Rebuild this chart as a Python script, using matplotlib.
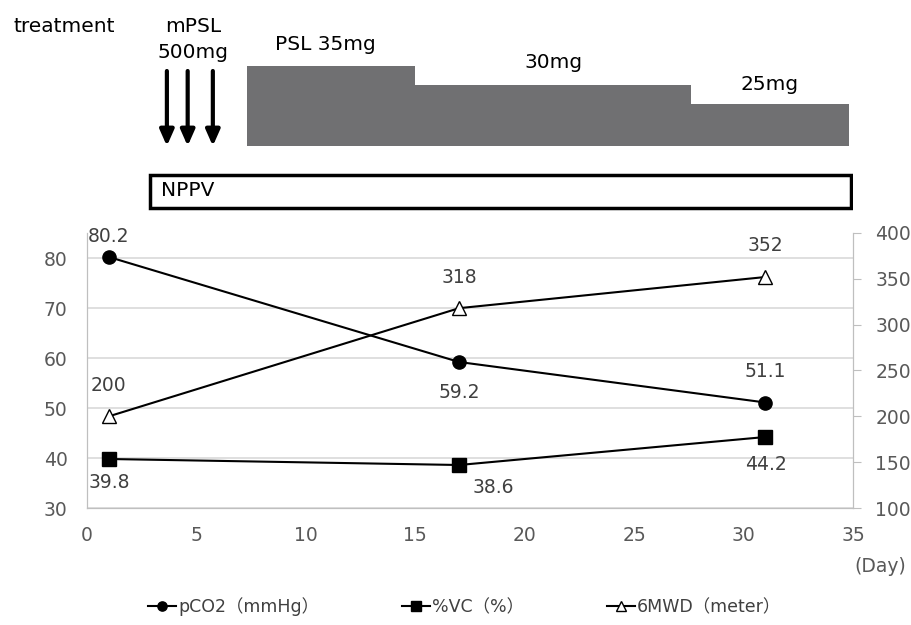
import matplotlib.pyplot as plt
from matplotlib.patches import Rectangle

days = [1, 17, 31]
pco2 = [80.2, 59.2, 51.1]
vc = [39.8, 38.6, 44.2]
mwd = [200, 318, 352]

# treatment schedule (day positions)
psl_start = [7.3, 15.0, 27.6]
psl_end = [15.0, 27.6, 34.8]
psl_dose = [35, 30, 25]
psl_labels = ['PSL 35mg', '30mg', '25mg']
pulse_days = [3.65, 4.6, 5.75]
nppv_start, nppv_end = 2.9, 34.9

fig = plt.figure(figsize=(9.11, 6.25), dpi=100)
plt.rcParams['font.family'] = ['DejaVu Sans', 'Noto Sans CJK JP']

L, R = 87 / 911, 853 / 911
ax = fig.add_axes([L, 1 - 508 / 625, R - L, 275 / 625])
ax2 = ax.twinx()

gray = '#595959'
ax.set_xlim(0, 35)
ax.set_ylim(30, 85)
ax.set_yticks([30, 40, 50, 60, 70, 80])
ax.set_xticks(range(0, 36, 5))
ax2.set_ylim(100, 400)
ax2.set_yticks(range(100, 401, 50))
ax.grid(axis='y', color='#d9d9d9', lw=1.2)
ax.set_axisbelow(True)
ax.spines['top'].set_visible(False)
ax2.spines['top'].set_visible(False)
for a in (ax, ax2):
    for s in ['left', 'right', 'bottom']:
        a.spines[s].set_color('#bfbfbf')
ax.tick_params(axis='y', length=0, labelsize=13.5, labelcolor=gray, pad=14)
ax.tick_params(axis='x', length=0, labelsize=13.5, labelcolor=gray, pad=13)
ax2.tick_params(axis='y', length=6, color='#bfbfbf', labelsize=13.5, labelcolor=gray, pad=10)

l1, = ax.plot(days, pco2, '-o', color='black', lw=1.5, ms=9.5, label='pCO2（mmHg）')
l2, = ax.plot(days, vc, '-s', color='black', lw=1.5, ms=9.5, label='%VC（%）')
l3, = ax2.plot(days, mwd, '-^', color='black', lw=1.5, ms=10, mfc='white', label='6MWD（meter）')

lab = dict(textcoords='offset points', ha='center', va='center', fontsize=13.5, color='#404040')
off_pco2 = [(0, 15), (0, -22), (0, 22)]
off_vc = [(0, -17), (25, -16), (0, -20)]
off_mwd = [(0, 22), (0, 22), (0, 23)]
for d, v, o in zip(days, pco2, off_pco2):
    ax.annotate(f'{v}', (d, v), xytext=o, **lab)
for d, v, o in zip(days, vc, off_vc):
    ax.annotate(f'{v}', (d, v), xytext=o, **lab)
for d, v, o in zip(days, mwd, off_mwd):
    ax2.annotate(f'{v}', (d, v), xytext=o, **lab)

fig.text(880 / 911, 1 - 566 / 625, '(Day)', ha='center', va='center', fontsize=13.5, color=gray)

fig.legend(handles=[l1, l2, l3], loc='center', bbox_to_anchor=(0.51, 1 - 607 / 625),
           ncol=3, frameon=False, fontsize=12.5, handlelength=1.6, columnspacing=4.8,
           handletextpad=0.1, markerscale=0.7, labelcolor='#404040')

# treatment panel: x in days, y in pixels from figure top
top = fig.add_axes([L, 1 - 215 / 625, R - L, 215 / 625])
top.set_xlim(0, 35)
top.set_ylim(215, 0)
top.axis('off')
base = 146
for s, e, d in zip(psl_start, psl_end, psl_dose):
    h = 3.8 * (d - 13.95)
    top.add_patch(Rectangle((s, base - h), e - s, h, color='#707072', lw=0))
fs = 14.5
top.text(8.6, 45, psl_labels[0], ha='left', va='center', fontsize=fs)
top.text(21.3, 63, psl_labels[1], ha='center', va='center', fontsize=fs)
top.text(31.2, 85, psl_labels[2], ha='center', va='center', fontsize=fs)
for p in pulse_days:
    top.annotate('', xy=(p, 146), xytext=(p, 71),
                 arrowprops=dict(arrowstyle='-|>,head_width=0.42,head_length=0.95',
                                 color='black', lw=3, shrinkA=0, shrinkB=0))
top.text(4.85, 27, 'mPSL', ha='center', va='center', fontsize=fs)
top.text(4.85, 53, '500mg', ha='center', va='center', fontsize=fs)
top.text(-3.38, 27, 'treatment', ha='left', va='center', fontsize=fs, clip_on=False)
top.add_patch(Rectangle((nppv_start, 175), nppv_end - nppv_start, 33,
                        fill=False, ec='black', lw=2.5))
top.text(nppv_start + 0.5, 190, 'NPPV', ha='left', va='center', fontsize=fs)

fig.savefig('out.png', dpi=100)
